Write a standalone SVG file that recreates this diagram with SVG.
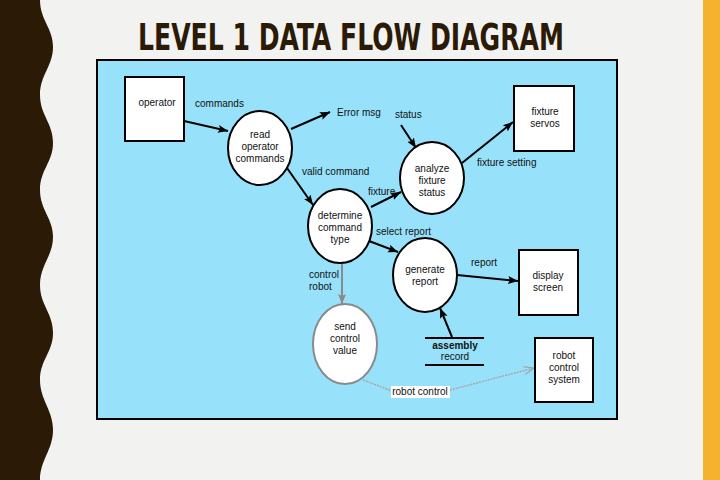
<svg xmlns="http://www.w3.org/2000/svg" width="720" height="480" viewBox="0 0 720 480">
<defs>
<marker id="ah" viewBox="0 0 10 10" refX="10" refY="5" markerWidth="10" markerHeight="10" markerUnits="userSpaceOnUse" orient="auto"><path d="M0,1 L10,5 L0,9 L2,5 Z" fill="#000"/></marker>
<marker id="ahg" viewBox="0 0 10 10" refX="10" refY="5" markerWidth="10" markerHeight="10" markerUnits="userSpaceOnUse" orient="auto"><path d="M0,1 L10,5 L0,9 L2,5 Z" fill="#8a8a8a"/></marker>
<marker id="ahd" viewBox="0 0 10 10" refX="10" refY="5" markerWidth="12" markerHeight="10" markerUnits="userSpaceOnUse" orient="auto"><path d="M0,1 L10,5 L0,9 M3,2 L10,5 L3,8" fill="none" stroke="#a0a0a0" stroke-width="1"/></marker>
<style>
.t{font-family:"Liberation Sans",Arial,sans-serif;font-size:10px;fill:#111;text-anchor:middle}
.ts{text-anchor:start}
.box{fill:#fff;stroke:#000;stroke-width:2}
.proc{fill:#fff;stroke:#000;stroke-width:2}
.c{stroke:#000;stroke-width:2;fill:none;marker-end:url(#ah)}
</style>
</defs>
<rect width="720" height="480" fill="#F2F2F0"/>
<path d="M0,0 L40,0 C40,20 53,28 53,47 C53,66 40,75 40,95 C40,115 53,123 53,143 C53,162 40,170 40,190 C40,210 53,218 53,237 C53,256 40,265 40,285 C40,305 53,313 53,333 C53,352 40,360 40,380 C40,400 53,410 53,430 C53,450 40,460 40,480 L0,480 Z" fill="#2A1A06"/>
<rect x="703" y="0" width="17" height="480" fill="#F4B22E"/>
<text x="351" y="50" font-family="'DejaVu Sans Condensed','DejaVu Sans',sans-serif" font-stretch="condensed" font-weight="bold" font-size="38" fill="#2A1A06" text-anchor="middle" textLength="426" lengthAdjust="spacingAndGlyphs">LEVEL 1 DATA FLOW DIAGRAM</text>
<rect x="97" y="60" width="520" height="359" fill="#97E2FA" stroke="#000" stroke-width="2"/>
<g id="connectors">
<line class="c" x1="184" y1="121" x2="228" y2="131"/>
<line class="c" x1="291" y1="129" x2="330" y2="112"/>
<line class="c" x1="401" y1="125" x2="416" y2="148"/>
<line class="c" x1="462" y1="163" x2="513" y2="122"/>
<line class="c" x1="287" y1="168" x2="313" y2="205"/>
<line class="c" x1="371" y1="207" x2="401" y2="192"/>
<line class="c" x1="369" y1="241" x2="398" y2="252"/>
<line class="c" x1="457" y1="275" x2="518" y2="281"/>
<line class="c" x1="452" y1="337" x2="440" y2="308"/>
<line x1="342" y1="262" x2="342" y2="304" stroke="#8a8a8a" stroke-width="2" marker-end="url(#ahg)"/>
<path d="M363,380 L392,391" stroke="#a8a8a8" stroke-width="1.5" stroke-dasharray="2,1" fill="none"/>
<path d="M450,390 L534,368" stroke="#a8a8a8" stroke-width="1.5" stroke-dasharray="2,1" fill="none" marker-end="url(#ahd)"/>
<rect x="391" y="386" width="59" height="12" fill="#fff"/>
<text class="t" x="420" y="395">robot control</text>
<text class="t ts" x="195" y="107">commands</text>
<text class="t ts" x="337" y="116">Error msg</text>
<text class="t ts" x="395" y="118">status</text>
<text class="t ts" x="477" y="166">fixture setting</text>
<text class="t ts" x="302" y="175">valid command</text>
<text class="t ts" x="368" y="195">fixture</text>
<text class="t ts" x="376" y="235">select report</text>
<text class="t ts" x="471" y="266">report</text>
<text class="t ts" x="309" y="278">control</text>
<text class="t ts" x="309" y="290">robot</text>
</g>
<g id="operator">
<rect class="box" x="125" y="77" width="59" height="64"/>
<text class="t" x="157" y="106">operator</text>
</g>
<g id="read-operator-commands">
<ellipse class="proc" cx="260" cy="148" rx="32" ry="37"/>
<text class="t" x="260" y="138">read</text>
<text class="t" x="260" y="150">operator</text>
<text class="t" x="260" y="162">commands</text>
</g>
<g id="analyze-fixture-status">
<ellipse class="proc" cx="432" cy="178" rx="32" ry="36"/>
<text class="t" x="432" y="172">analyze</text>
<text class="t" x="432" y="184">fixture</text>
<text class="t" x="432" y="196">status</text>
</g>
<g id="fixture-servos">
<rect class="box" x="514" y="86" width="60" height="65"/>
<text class="t" x="545" y="115">fixture</text>
<text class="t" x="545" y="127">servos</text>
</g>
<g id="determine-command-type">
<ellipse class="proc" cx="340" cy="226" rx="32" ry="37"/>
<text class="t" x="340" y="219">determine</text>
<text class="t" x="340" y="231">command</text>
<text class="t" x="340" y="243">type</text>
</g>
<g id="generate-report">
<ellipse class="proc" cx="425" cy="275" rx="32" ry="37"/>
<text class="t" x="425" y="273">generate</text>
<text class="t" x="425" y="285">report</text>
</g>
<g id="display-screen">
<rect class="box" x="519" y="250" width="59" height="65"/>
<text class="t" x="548" y="279">display</text>
<text class="t" x="548" y="291">screen</text>
</g>
<g id="send-control-value">
<ellipse cx="345" cy="344" rx="32" ry="40" fill="#fff" stroke="#8a8a8a" stroke-width="2"/>
<text class="t" x="345" y="330">send</text>
<text class="t" x="345" y="342">control</text>
<text class="t" x="345" y="354">value</text>
</g>
<g id="assembly-record">
<line x1="425" y1="338" x2="484" y2="338" stroke="#000" stroke-width="2"/>
<line x1="425" y1="365" x2="484" y2="365" stroke="#000" stroke-width="2"/>
<text class="t" x="455" y="349" font-weight="bold">assembly</text>
<text class="t" x="455" y="360">record</text>
</g>
<g id="robot-control-system">
<rect class="box" x="535" y="338" width="58" height="64"/>
<text class="t" x="564" y="359">robot</text>
<text class="t" x="564" y="371">control</text>
<text class="t" x="564" y="383">system</text>
</g>
</svg>
